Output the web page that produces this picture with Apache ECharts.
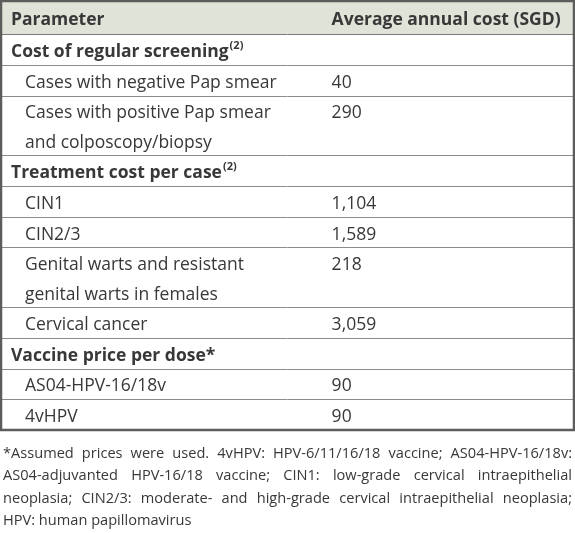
<!DOCTYPE html>
<html>
<head>
<meta charset="utf-8">
<script src="https://cdn.jsdelivr.net/npm/echarts@6/dist/echarts.min.js"></script>
<style>
html,body{margin:0;padding:0;background:#fff;}
#chart{width:575px;height:533px;}
</style>
</head>
<body>
<div id="chart"></div>
<script>
// ---- data ----
const headers = ['Parameter', 'Average annual cost (SGD)'];
const parameters = [
  'Cost of regular screening',
  'Cases with negative Pap smear',
  'Cases with positive Pap smear\nand colposcopy/biopsy',
  'Treatment cost per case',
  'CIN1',
  'CIN2/3',
  'Genital warts and resistant\ngenital warts in females',
  'Cervical cancer',
  'Vaccine price per dose*',
  'AS04-HPV-16/18v',
  '4vHPV'
];
const rowKinds = ['section','item','item','section','item','item','item','item','section','item','item'];
const refMarks = ['(2)','','','(2)','','','','','','',''];
const costs = [null, 40, 290, null, 1104, 1589, 218, 3059, null, 90, 90];
const footnoteLines = [
  '*Assumed prices were used. 4vHPV: HPV-6/11/16/18 vaccine; AS04-HPV-16/18v:',
  'AS04-adjuvanted HPV-16/18 vaccine; CIN1: low-grade cervical intraepithelial',
  'neoplasia; CIN2/3: moderate- and high-grade cervical intraepithelial neoplasia;',
  'HPV: human papillomavirus'
];

// ---- layout (styling) ----
const FONT = '"Open Sans", "Noto Sans", sans-serif';
const TXT = '#383838';
const FS = 17.5;
const TEXT_DY = 2.5;
const HEADER_UNITS = 1.08;
const LINE_UNITS = 0.975;   // per text line (double rows)

// Build row spans from line counts
const rows = [];
let cursor = 0;
rows.push({ idx: -1, y0: 0, y1: HEADER_UNITS });
cursor = HEADER_UNITS;
parameters.forEach((p, i) => {
  const n = p.split('\n').length;
  const h = n === 1 ? 1 : n * LINE_UNITS;
  rows.push({ idx: i, y0: cursor, y1: cursor + h });
  cursor += h;
});
const TOTAL = cursor;

function fmt(v) { return v == null ? '' : v.toLocaleString('en-US'); }

const chart = echarts.init(document.getElementById('chart'), null, { renderer: 'canvas' });

function renderRow(params, api) {
  const idx = api.value(0);
  const y0 = api.value(1), y1 = api.value(2);
  const p0 = api.coord([0, y0]);
  const p1 = api.coord([100, y1]);
  const colX = api.coord([57.7, 0])[0];
  const top = p0[1], bottom = p1[1], left = p0[0], right = p1[0];
  const h = bottom - top;
  const children = [];
  if (idx === -1) {
    children.push({ type: 'rect', shape: { x: left, y: top, width: right - left, height: h },
      style: { fill: '#dfe3d8' } });
    children.push({ type: 'text', style: { text: headers[0], x: left + 10, y: top + h / 2 + TEXT_DY,
      font: 'bold ' + FS + 'px ' + FONT, fill: TXT, verticalAlign: 'middle' } });
    children.push({ type: 'text', style: { text: headers[1], x: colX, y: top + h / 2 + TEXT_DY,
      font: 'bold ' + FS + 'px ' + FONT, fill: TXT, verticalAlign: 'middle' } });
  } else {
    const kind = rowKinds[idx];
    const label = parameters[idx];
    const nLines = label.split('\n').length;
    const lineH = nLines === 1 ? h : h / nLines;
    const bold = kind === 'section';
    const txt = refMarks[idx] ? label + '{sup|' + refMarks[idx] + '}' : label;
    children.push({ type: 'text', style: {
      text: txt, x: left + (bold ? 10 : 24), y: top + h / 2 + TEXT_DY,
      font: (bold ? 'bold ' : '') + FS + 'px ' + FONT, fill: TXT,
      verticalAlign: 'middle', lineHeight: lineH,
      rich: { sup: { fontSize: 11, fontWeight: 'bold', fontFamily: FONT, fill: TXT,
        lineHeight: lineH, padding: [0, 0, 12, 1] } }
    } });
    if (costs[idx] != null) {
      children.push({ type: 'text', style: {
        text: fmt(costs[idx]), x: colX, y: top + lineH / 2 + TEXT_DY,
        font: FS + 'px ' + FONT, fill: TXT, verticalAlign: 'middle'
      } });
    }
  }
  if (idx !== parameters.length - 1) {
    const yy = Math.round(bottom) + 0.5;
    children.push({ type: 'line', shape: { x1: left, y1: yy, x2: right, y2: yy },
      style: { stroke: idx === -1 ? '#7a7a7a' : '#8c8c8c', lineWidth: 1 } });
  }
  return { type: 'group', children };
}

function renderFrame(params, api) {
  const p0 = api.coord([0, 0]);
  const p1 = api.coord([100, TOTAL]);
  return { type: 'rect', shape: { x: p0[0], y: p0[1], width: p1[0] - p0[0], height: p1[1] - p0[1] },
    style: { fill: null, stroke: '#5c5c5c', lineWidth: 2.5 } };
}

// Footnote: justified lines via measured word widths
const FN_FONT_SIZE = 14.6;
const fnFont = FN_FONT_SIZE + 'px ' + FONT;
const mctx = document.createElement('canvas').getContext('2d');
mctx.font = fnFont;
const fnLeft = 3, fnRight = 572, fnTop = 454, fnStep = 22.3;
const graphics = [];
footnoteLines.forEach((line, li) => {
  const y = fnTop + li * fnStep;
  const justify = li < footnoteLines.length - 1;
  if (!justify) {
    graphics.push({ type: 'text', x: fnLeft, y: y, style: { text: line, font: fnFont, fill: TXT, verticalAlign: 'middle' } });
    return;
  }
  const words = line.split(' ');
  const widths = words.map(w => mctx.measureText(w).width);
  const total = widths.reduce((a, b) => a + b, 0);
  const gap = (fnRight - fnLeft - total) / (words.length - 1);
  let x = fnLeft;
  words.forEach((w, wi) => {
    graphics.push({ type: 'text', x: x, y: y, style: { text: w, font: fnFont, fill: TXT, verticalAlign: 'middle' } });
    x += widths[wi] + gap;
  });
});

chart.setOption({
  animation: false,
  grid: { left: 1, right: 1, top: 1, height: 429 },
  xAxis: { type: 'value', min: 0, max: 100, show: false },
  yAxis: { type: 'value', min: 0, max: TOTAL, inverse: true, show: false },
  series: [
    { type: 'custom', renderItem: renderRow, data: rows.map(r => [r.idx, r.y0, r.y1]), clip: false, z: 2 },
    { type: 'custom', renderItem: renderFrame, data: [[0]], clip: false, z: 3 }
  ],
  graphic: graphics
});
</script>
</body>
</html>
